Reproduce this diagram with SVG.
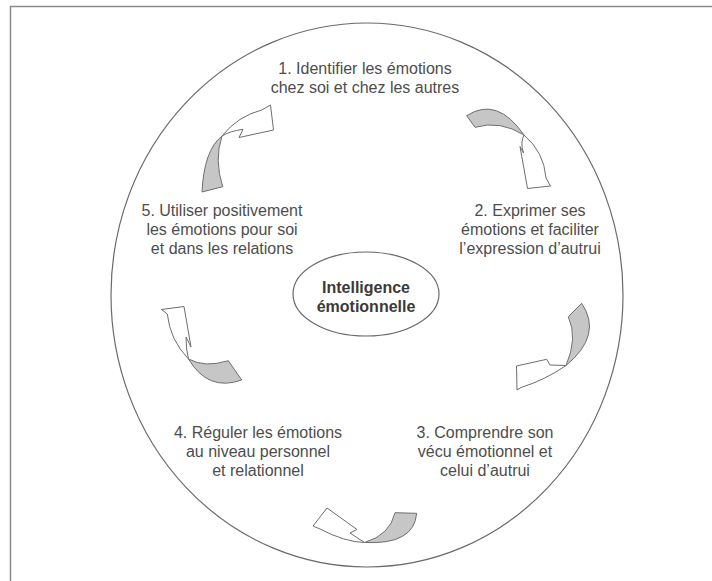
<svg xmlns="http://www.w3.org/2000/svg" width="712" height="581" viewBox="0 0 712 581">
<style>
.lbl{font-family:"Liberation Sans",Arial,sans-serif;font-size:16px;fill:#4d4d4d;text-anchor:middle}
.ctr{font-family:"Liberation Sans",Arial,sans-serif;font-size:16px;font-weight:bold;fill:#3a3a3a;text-anchor:middle}
.tail{fill:#c6c6c6;stroke:#6e6e6e;stroke-width:1;stroke-linejoin:round}
.head{fill:#ffffff;stroke:#6e6e6e;stroke-width:1;stroke-linejoin:miter}
.ring{fill:none;stroke:#6a6a6a;stroke-width:1.2}
</style>
<rect width="712" height="581" fill="#ffffff"/>
<path d="M10.5,581 V6.5 H712" fill="none" stroke="#8a8a8a" stroke-width="1.5"/>
<g id="outer-circle"><ellipse class="ring" cx="367" cy="295" rx="256" ry="272"/></g>
<g id="center"><ellipse cx="366" cy="294" rx="73" ry="42" fill="#ffffff" stroke="#6a6a6a" stroke-width="1.2"/>
<text class="ctr" x="366" y="293">Intelligence</text><text class="ctr" x="366" y="312">émotionnelle</text></g>
<g id="step1"><text class="lbl" x="365" y="74">1. Identifier les émotions</text><text class="lbl" x="365" y="93">chez soi et chez les autres</text></g>
<g id="step2"><text class="lbl" x="530" y="216">2. Exprimer ses</text><text class="lbl" x="530" y="235">émotions et faciliter</text><text class="lbl" x="530" y="254">l’expression d’autrui</text></g>
<g id="step3"><text class="lbl" x="485" y="438">3. Comprendre son</text><text class="lbl" x="485" y="457">vécu émotionnel et</text><text class="lbl" x="485" y="476">celui d’autrui</text></g>
<g id="step4"><text class="lbl" x="258" y="438">4. Réguler les émotions</text><text class="lbl" x="258" y="457">au niveau personnel</text><text class="lbl" x="258" y="476">et relationnel</text></g>
<g id="step5"><text class="lbl" x="222" y="216">5. Utiliser positivement</text><text class="lbl" x="222" y="235">les émotions pour soi</text><text class="lbl" x="222" y="254">et dans les relations</text></g>
<g id="connectors">
<g id="arrow-5-1">
<path class="tail" d="M222,136 Q204,150 202,192 L222.7,186.7 Q214,160 222,136 Z"/>
<path class="head" d="M222,136 Q238,116 261.7,110 L270.5,105 L273.5,130 L239,137.5 L243,129.3 Q230,131 222,136 Z"/>
</g>
<g id="arrow-1-2">
<path class="tail" d="M466.7,115.7 Q497,96 524,135 Q500,120 475,127.3 Z"/>
<path class="head" d="M524,135 Q544,152 546,178 L550.5,186 L527.5,188.5 L520,146.5 L523.5,153 Q520,142 524,135 Z"/>
</g>
<g id="arrow-2-3">
<path class="tail" d="M581.7,303.3 Q603,335 566,365.5 Q578,338 568.3,316.7 Z"/>
<path class="head" d="M566,365.5 L550,365 L546.7,359.3 L516.5,366 L517,390 L521,387.5 Q545,380 566,365.5 Z"/>
</g>
<g id="arrow-3-4">
<path class="tail" d="M395,512.7 L416.7,513.3 Q414,545 364.5,542.5 Q390,535 395,512.7 Z"/>
<path class="head" d="M364.5,542.5 Q356,537 350,533 L357,529.5 L327,508 L313,526 L320,529 Q345,542 364.5,542.5 Z"/>
</g>
<g id="arrow-4-5">
<path class="tail" d="M228.3,360.7 L241.7,380 Q208,392 188.5,359 Q205,368 228.3,360.7 Z"/>
<path class="head" d="M188.5,359 Q170,340 167.3,314 L161.5,309.5 L184,306.5 L191,347 L186,337 Q186,350 188.5,359 Z"/>
</g>
</g>
</svg>
